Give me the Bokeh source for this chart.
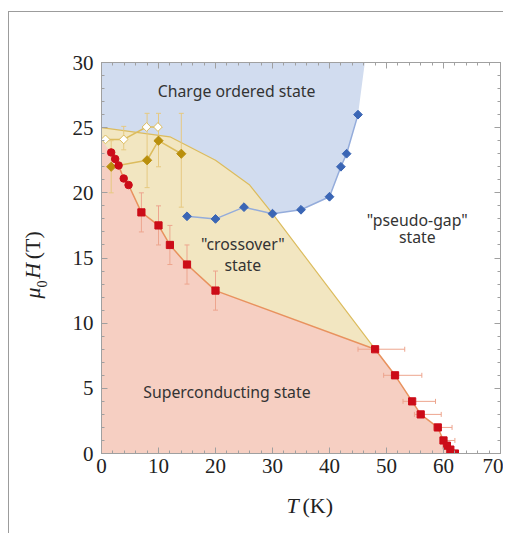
import math
from bokeh.plotting import figure
from bokeh.models import Range1d, LinearAxis, SingleIntervalTicker, Label
from bokeh.layouts import column, row
from bokeh.core.properties import value
from bokeh.embed import file_html
from bokeh.resources import INLINE

# ---------------- data ----------------
# superconducting boundary (red circles + red squares)
sc_T0_H = 24.0
sc_circ_T = [1.7, 2.4, 3.0, 3.9, 4.75]
sc_circ_H = [23.1, 22.6, 22.1, 21.1, 20.6]
sc_sq_T = [7, 10, 12, 15, 20, 48, 51.5, 54.5, 56, 59, 60, 60.6, 61.2, 62]
sc_sq_H = [18.5, 17.5, 16, 14.5, 12.5, 8, 6, 4, 3, 2, 1, 0.6, 0.3, 0]
# vertical error bars of low-T squares
sq_verr_T = [7, 10, 12, 15, 20]
sq_verr_lo = [17.0, 16.0, 14.5, 13.0, 11.0]
sq_verr_hi = [20.0, 19.0, 17.5, 16.0, 14.0]
# horizontal error bars of high-T squares
sq_herr_H = [8, 6, 4, 3, 2, 1]
sq_herr_lo = [45.0, 49.5, 52.9, 54.9, 58.3, 59.6]
sq_herr_hi = [53.2, 56.2, 58.6, 59.6, 61.5, 62.0]

# charge order boundary (blue diamonds)
co_T = [15, 20, 25, 30, 35, 40, 42, 43, 45]
co_H = [18.2, 18.0, 18.9, 18.4, 18.7, 19.7, 22.0, 23.0, 26.0]
co_top_T = 46.2

# gold diamonds
gold_T = [1.7, 8, 10, 14]
gold_H = [22.0, 22.5, 24.0, 23.0]
gold_lo = [20.0, 20.4, 22.0, 18.9]
gold_hi = [24.0, 26.1, 26.1, 26.1]

# open diamonds
open_T = [0.7, 3.9, 7.9, 9.9]
open_H = [24.1, 24.1, 25.05, 25.05]
open_err_T = [3.9]
open_err_lo = [23.3]
open_err_hi = [25.1]

# crossover region upper/right boundary
xo_T = [0, 12, 20, 26, 30, 48]
xo_H = [25, 24.3, 22.5, 20.6, 18.4, 8]

x_ticks = [0, 10, 20, 30, 40, 50, 60, 70]
y_ticks = [0, 5, 10, 15, 20, 25, 30]

# ---------------- styles ----------------
BLUE_FILL = "#d1dcef"
YEL_FILL = "#f2e6c1"
RED_FILL = "#f6cfc2"
RED = "#cc0c18"
RED_LINE = "#e8925e"
RED_ERR = "#eda58e"
BLUE = "#3b66b5"
BLUE_LINE = "#94acdb"
GOLD = "#b98f0c"
GOLD_LINE = "#dcbc5e"
GOLD_ERR = "#e6c981"
TXT = "#333333"
AX = "#a0a0a0"
TTL = "#222222"

LB, RB, TB, BB = 42, 3, 50, 28
FW, FH = 399, 391
YW = 50
XH = 52

p = figure(width=LB + FW + RB, height=TB + FH + BB, output_backend="svg",
           toolbar_location=None, x_range=Range1d(0, 70), y_range=Range1d(0, 30))
p.min_border_left = LB
p.min_border_right = RB
p.min_border_top = TB
p.min_border_bottom = BB
p.background_fill_color = "white"
p.border_fill_color = "white"
p.outline_line_color = AX
p.xgrid.visible = False
p.ygrid.visible = False

# blue region (charge order)
blue_x = [0, co_top_T] + co_T[::-1] + [0]
blue_y = [30, 30] + co_H[::-1] + [co_H[0]]
p.patch(blue_x, blue_y, fill_color=BLUE_FILL, line_color=None)

# red boundary arrays
sc_T = [0] + sc_circ_T + sc_sq_T
sc_H = [sc_T0_H] + sc_circ_H + sc_sq_H

# yellow region (crossover)
low_T = [t for t in sc_T if t <= 48]
low_H = [h for t, h in zip(sc_T, sc_H) if t <= 48]
p.patch(xo_T + low_T[::-1], xo_H + low_H[::-1], fill_color=YEL_FILL, line_color=None)

# red region (superconducting)
p.patch(sc_T + [0], sc_H + [0], fill_color=RED_FILL, line_color=None)

# boundary lines
p.line(xo_T, xo_H, line_color=GOLD_LINE, line_width=1.2)
p.line(sc_T[1:], sc_H[1:], line_color=RED_LINE, line_width=1.5)
p.line(co_T, co_H, line_color=BLUE_LINE, line_width=1.5)
p.line(gold_T, gold_H, line_color=GOLD_LINE, line_width=1.5)
p.line(open_T, open_H, line_color=GOLD_LINE, line_width=1.5)

# error bars
def vbars(xs, lo, hi, color):
    p.segment(xs, lo, xs, hi, line_color=color, line_width=1)
    p.scatter(xs + xs, lo + hi, marker="dash", size=5, line_color=color, line_width=1)

def hbars(ys, lo, hi, color):
    p.segment(lo, ys, hi, ys, line_color=color, line_width=1)
    p.scatter(lo + hi, ys + ys, marker="dash", angle=math.pi / 2, size=5,
              line_color=color, line_width=1)

vbars(gold_T, gold_lo, gold_hi, GOLD_ERR)
vbars(open_err_T, open_err_lo, open_err_hi, GOLD_ERR)
vbars(sq_verr_T, sq_verr_lo, sq_verr_hi, RED_ERR)
hbars(sq_herr_H, sq_herr_lo, sq_herr_hi, RED_ERR)

# markers
p.scatter(co_T, co_H, marker="square", angle=math.pi / 4, size=6.2,
          fill_color=BLUE, line_color=BLUE)
p.scatter(gold_T, gold_H, marker="square", angle=math.pi / 4, size=6.5,
          fill_color=GOLD, line_color=GOLD)
p.scatter(open_T, open_H, marker="square", angle=math.pi / 4, size=6.2,
          fill_color="white", line_color=GOLD_LINE, line_width=1)
p.scatter(sc_circ_T, sc_circ_H, marker="circle", size=7.5, fill_color=RED, line_color=RED)
p.scatter(sc_sq_T, sc_sq_H, marker="square", size=7.2, fill_color=RED, line_color=RED)

# axes
xb = p.below[0]
yl = p.left[0]
xb.ticker = SingleIntervalTicker(interval=10, num_minor_ticks=5)
yl.ticker = SingleIntervalTicker(interval=5, num_minor_ticks=5)
top = LinearAxis(ticker=SingleIntervalTicker(interval=10, num_minor_ticks=5),
                 major_label_overrides={t: "" for t in x_ticks})
right = LinearAxis(ticker=SingleIntervalTicker(interval=5, num_minor_ticks=5),
                   major_label_overrides={t: "" for t in y_ticks})
p.add_layout(top, "above")
p.add_layout(right, "right")

for ax in (xb, yl, top, right):
    ax.axis_line_color = AX
    ax.major_tick_line_color = AX
    ax.minor_tick_line_color = AX
    ax.major_tick_in = 6
    ax.major_tick_out = 0
    ax.minor_tick_in = 3
    ax.minor_tick_out = 0
    ax.major_label_text_font = "Liberation Serif"
    ax.major_label_text_font_size = "21px"
    ax.major_label_text_color = TTL
top.major_label_standoff = 0
right.major_label_standoff = 0
xb.major_label_standoff = 5
yl.major_label_standoff = 8

# region texts
def txt(x, y, s):
    p.add_layout(Label(x=x, y=y, text=s, text_font="Noto Sans", text_font_size="15.8px",
                       text_color=TXT, text_align="center", text_baseline="middle"))

txt(23.7, 27.8, "Charge ordered state")
txt(24.8, 16.05, "\"crossover\"")
txt(24.8, 14.5, "state")
txt(55.4, 17.95, "\"pseudo-gap\"")
txt(55.4, 16.6, "state")
txt(22.0, 4.7, "Superconducting state")

# ---- axis titles in small side figures (pixel coordinates) ----
def blank(w, h):
    f = figure(width=w, height=h, output_backend="svg", toolbar_location=None,
               x_range=Range1d(0, w), y_range=Range1d(0, h),
               x_axis_location=None, y_axis_location=None, min_border=0)
    f.min_border_left = f.min_border_right = f.min_border_top = f.min_border_bottom = 0
    f.outline_line_color = None
    f.xgrid.visible = False
    f.ygrid.visible = False
    f.border_fill_color = "white"
    return f

def piece(f, x, y, s, style="normal", size="22px", angle=0.0):
    f.text(x=[x], y=[y], text=[s], text_font=value("Liberation Serif"),
           text_font_size=value(size), text_font_style=style, text_color=TTL,
           text_align="left", text_baseline="alphabetic", angle=angle)

A = math.pi / 2
H_ROW = TB + FH + BB
yfig = blank(YW, H_ROW)
# page y -> fig y : H_ROW - (page_y - 12)
piece(yfig, 23, H_ROW - (295 - 12), "\u03bc", style="italic", angle=A)
piece(yfig, 32, H_ROW - (282 - 12), "0", size="14px", angle=A)
piece(yfig, 23, H_ROW - (271.5 - 12), "H", style="italic", angle=A)
piece(yfig, 23, H_ROW - (248 - 12), "(T)", angle=A)

xfig = blank(YW + LB + FW + RB, XH)
# title baseline at page y ~505
piece(xfig, 277, XH - (505 - 12 - H_ROW), "T", style="italic")
piece(xfig, 293, XH - (505 - 12 - H_ROW), "(K)")

layout = column(row(yfig, p, spacing=0), xfig, spacing=0)
layout.styles = {"border-left": "1px solid #9c9c9c", "border-top": "1px solid #9c9c9c",
                 "margin-top": "11px", "margin-left": "8px"}

open("out.html", "w").write(file_html(layout, INLINE))
